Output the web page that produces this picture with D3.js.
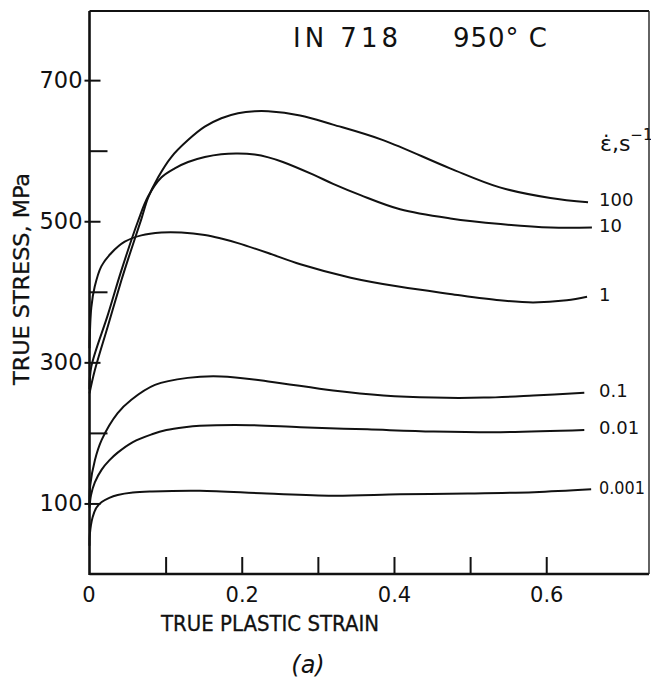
<!DOCTYPE html>
<html>
<head>
<meta charset="utf-8">
<script src="https://cdn.jsdelivr.net/npm/d3@7"></script>
<style>
  body { margin: 0; background: #fff; }
  svg { display: block; }
  text { font-family: "DejaVu Sans", sans-serif; fill: #111; }
  .axisTitle { font-family: "DejaVu Sans Condensed", "DejaVu Sans", sans-serif; }
</style>
</head>
<body>
<div id="chart"></div>
<script>
// strain rate labels (s^-1), top curve first
var rateLabels = ["100", "10", "1", "0.1", "0.01", "0.001"];

// true plastic strain / true stress (MPa)
var strain100 = [0, 0.0068, 0.0243, 0.0418, 0.0506, 0.0681, 0.0769, 0.090, 0.1075, 0.1294, 0.1514, 0.1732, 0.1951, 0.2171, 0.2346, 0.2766, 0.3199, 0.3856, 0.4736, 0.539, 0.6054, 0.6549];
var stress100 = [256, 288, 352, 416, 446, 503, 533, 562, 591, 615, 634, 646, 653, 656, 656, 650, 637, 615, 575, 548, 533, 527];

var strain10 = [0, 0.0024, 0.0243, 0.0418, 0.0637, 0.0769, 0.0943, 0.112, 0.1295, 0.1515, 0.173, 0.195, 0.217, 0.235, 0.254, 0.294, 0.320, 0.356, 0.408, 0.474, 0.540, 0.606, 0.660];
var stress10 = [262, 294, 368, 430, 500, 535, 562, 575, 584, 591, 595, 596, 594.5, 590.5, 584, 566, 553, 537, 517, 504, 496, 491, 491];

var strain1 = [0, 0.0024, 0.0068, 0.0155, 0.0287, 0.0463, 0.068, 0.0944, 0.1207, 0.1515, 0.173, 0.195, 0.2346, 0.277, 0.3431, 0.408, 0.4736, 0.539, 0.5826, 0.627, 0.6536];
var stress1 = [320, 378, 407, 436, 455, 471, 480, 484, 484, 480.5, 475.5, 469, 455, 439, 420, 407, 397, 388, 385, 388, 393];

var strain01 = [0, 0.001, 0.007, 0.016, 0.037, 0.055, 0.086, 0.129, 0.173, 0.235, 0.320, 0.386, 0.452, 0.518, 0.583, 0.650];
var stress01 = [97, 126, 161, 190, 228, 247, 268, 278, 280, 273, 260, 253, 250, 250, 253, 257];

var strain001 = [0, 0.002, 0.007, 0.016, 0.026, 0.037, 0.057, 0.082, 0.101, 0.125, 0.145, 0.211, 0.277, 0.365, 0.452, 0.540, 0.650];
var stress001 = [94, 112, 130, 148, 161, 172, 187, 198, 204, 208, 210, 211, 208, 205, 202, 201, 204];

var strain0001 = [0, 0.0005, 0.004, 0.009, 0.016, 0.026, 0.037, 0.057, 0.082, 0.145, 0.233, 0.320, 0.408, 0.497, 0.584, 0.659];
var stress0001 = [40, 57, 80, 94, 102, 108, 112, 115.5, 117, 118, 114, 111, 113, 114, 116, 120];

var xTickValues = [0, 0.1, 0.2, 0.3, 0.4, 0.5, 0.6];
var yTickValues = [100, 200, 300, 400, 500, 600, 700];

var strains = [strain100, strain10, strain1, strain01, strain001, strain0001];
var stresses = [stress100, stress10, stress1, stress01, stress001, stress0001];

var svgWidth = 651, svgHeight = 680;
var plotLeft = 89.5, plotRight = 649, plotTop = 11, plotBottom = 574;

var svg = d3.select("#chart").append("svg")
  .attr("width", svgWidth)
  .attr("height", svgHeight);

var xScale = d3.scaleLinear().domain([0, 0.735]).range([plotLeft, plotRight]);
var yScale = d3.scaleLinear().domain([0, 798]).range([plotBottom, plotTop]);

// frame
svg.append("line").attr("x1", plotLeft).attr("x2", plotLeft).attr("y1", plotTop).attr("y2", plotBottom + 1)
  .attr("stroke", "#111").attr("stroke-width", 2.6);
svg.append("line").attr("x1", plotLeft).attr("x2", plotRight).attr("y1", plotBottom).attr("y2", plotBottom)
  .attr("stroke", "#111").attr("stroke-width", 2.6);
svg.append("line").attr("x1", plotLeft).attr("x2", plotRight).attr("y1", plotTop).attr("y2", plotTop)
  .attr("stroke", "#111").attr("stroke-width", 2.2);
svg.append("line").attr("x1", plotRight).attr("x2", plotRight).attr("y1", plotTop).attr("y2", plotBottom)
  .attr("stroke", "#222").attr("stroke-width", 1.4);

// x axis, ticks pointing inward
var xAxis = d3.axisBottom(xScale)
  .tickValues(xTickValues)
  .tickSize(-17)
  .tickPadding(13)
  .tickFormat(d => (Math.round(d * 10) % 2 === 0) ? (d === 0 ? "0" : d3.format(".1f")(d)) : "");

var gx = svg.append("g")
  .attr("transform", `translate(0, ${plotBottom})`)
  .call(xAxis);
gx.select(".domain").remove();
gx.selectAll(".tick line").attr("stroke", "#111").attr("stroke-width", 2)
  .filter(d => d === 0).remove();
gx.selectAll(".tick text").attr("font-size", 21).attr("fill", "#111")
  .attr("font-family", "DejaVu Sans, sans-serif");
gx.selectAll(".tick").filter(d => d === 0).select("text").attr("x", -1);

// y axis
var yAxis = d3.axisLeft(yScale)
  .tickValues(yTickValues)
  .tickSize(-18)
  .tickPadding(7)
  .tickFormat(d => (d / 100) % 2 === 1 ? d : "");

var gy = svg.append("g")
  .attr("transform", `translate(${plotLeft}, 0)`)
  .call(yAxis);
gy.select(".domain").remove();
gy.selectAll(".tick line").attr("stroke", "#111").attr("stroke-width", 2);
gy.selectAll(".tick").filter(d => (d / 100) % 2 === 1).select("line")
  .attr("x1", -5).attr("x2", 11);
gy.selectAll(".tick text").attr("font-size", 22.5).attr("fill", "#111")
  .attr("font-family", "DejaVu Sans, sans-serif");

// curves
var line = d3.line()
  .x(d => xScale(d[0]))
  .y(d => yScale(d[1]))
  .curve(d3.curveCatmullRom.alpha(0.5));

var series = rateLabels.map((r, i) => ({
  label: r,
  points: strains[i].map((s, j) => [s, stresses[i][j]])
}));

svg.append("g").selectAll("path")
  .data(series)
  .enter()
  .append("path")
  .attr("d", d => line(d.points))
  .attr("fill", "none")
  .attr("stroke", "#111")
  .attr("stroke-width", 2);

// curve labels
svg.append("g").selectAll("text")
  .data(series)
  .enter()
  .append("text")
  .attr("x", 599)
  .attr("y", d => yScale(d.points[d.points.length - 1][1]) - 2)
  .attr("dy", "0.35em")
  .attr("font-size", 18)
  .attr("textLength", d => d.label === "0.001" ? 46 : null)
  .attr("lengthAdjust", "spacingAndGlyphs")
  .text(d => d.label);

// strain rate symbol
var rate = svg.append("text")
  .attr("x", 600)
  .attr("y", 151)
  .attr("font-size", 22);
rate.append("tspan").text("\u03b5\u0307,s");
rate.append("tspan").attr("dy", -11).attr("font-size", 15).text("\u22121");

// title
svg.append("text")
  .attr("x", 293).attr("y", 47)
  .attr("font-size", 26)
  .attr("textLength", 105)
  .attr("lengthAdjust", "spacing")
  .text("IN 718");
svg.append("text")
  .attr("x", 453).attr("y", 47)
  .attr("font-size", 26)
  .attr("textLength", 94)
  .attr("lengthAdjust", "spacing")
  .text("950\u00b0 C");

// axis titles
svg.append("text")
  .attr("class", "axisTitle")
  .attr("x", 161).attr("y", 631)
  .attr("font-size", 22)
  .attr("stroke", "#111").attr("stroke-width", 0.3)
  .attr("textLength", 218)
  .attr("lengthAdjust", "spacingAndGlyphs")
  .text("TRUE PLASTIC STRAIN");

svg.append("text")
  .attr("class", "axisTitle")
  .attr("transform", "rotate(-90)")
  .attr("x", -385).attr("y", 29)
  .attr("font-size", 22)
  .attr("stroke", "#111").attr("stroke-width", 0.3)
  .attr("textLength", 212)
  .attr("lengthAdjust", "spacingAndGlyphs")
  .text("TRUE STRESS, MPa");

// panel letter
svg.append("text")
  .attr("x", 308).attr("y", 673)
  .attr("text-anchor", "middle")
  .attr("font-family", "Liberation Serif, serif")
  .attr("font-style", "italic")
  .attr("font-size", 24)
  .text("(a)");
</script>
</body>
</html>
